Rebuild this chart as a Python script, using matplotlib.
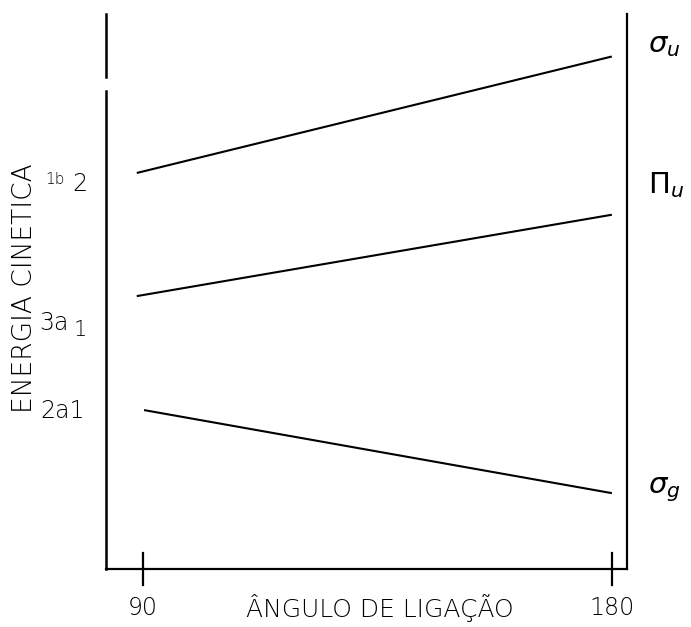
import matplotlib
matplotlib.use("Agg")
import matplotlib.pyplot as plt

# Diagrama de Walsh: energia dos orbitais em função do ângulo de ligação
angulos = [90, 180]
inicio = [89.0, 89.0, 90.4]          # ângulo onde cada linha começa
fim = [179.8, 179.8, 179.8]
energia_inicio = [7.14, 4.92, 2.86]
energia_fim = [9.23, 6.38, 1.37]
estados_180 = [r"$\sigma_u$", r"$\Pi_u$", r"$\sigma_g$"]

W, H = 691, 627
fig = plt.figure(figsize=(W / 100, H / 100), dpi=100)
fig.patch.set_facecolor("white")

# eixo: espinha esquerda em x=106 px, direita em 627 px, base 569 px, topo 14 px
ax = fig.add_axes([106 / W, 1 - 569 / H, (627 - 106) / W, (569 - 14) / H])
ax.set_xlim(82.9, 182.9)
ax.set_ylim(0, 10)
for lado in ["top", "left"]:
    ax.spines[lado].set_visible(False)
for lado in ["bottom", "right"]:
    ax.spines[lado].set_linewidth(1.6)
ax.set_xticks([])
ax.set_yticks([])

# espinha esquerda com interrupção perto do topo
ax.plot([0, 0], [0, 0.862], transform=ax.transAxes, color="black",
        lw=1.8, clip_on=False)
ax.plot([0, 0], [0.886, 1.0], transform=ax.transAxes, color="black",
        lw=1.8, clip_on=False)

# marcas longas em 90 e 180 atravessando a base
for a in angulos:
    ax.plot([a, a], [0.29, -0.29], color="black", lw=1.6, clip_on=False)

for x0, x1, e0, e1 in zip(inicio, fim, energia_inicio, energia_fim):
    ax.plot([x0, x1], [e0, e1], color="black", lw=1.5)

fonte = ["DejaVu Sans"]
peso = 200

# rótulos dos orbitais à esquerda
fig.text(45 / W, 1 - 179 / H, "1b", fontsize=11, family=fonte,
         weight=peso, ha="left", va="center")
fig.text(72 / W, 1 - 184 / H, "2", fontsize=17, family=fonte,
         weight=peso, ha="left", va="center")
fig.text(39 / W, 1 - 323 / H, "3a", fontsize=17, family=fonte,
         weight=peso, ha="left", va="center")
fig.text(74 / W, 1 - 330 / H, "1", fontsize=15, family=fonte,
         weight=peso, ha="left", va="center")
fig.text(40 / W, 1 - 411 / H, "2a1", fontsize=17, family=fonte,
         weight=peso, ha="left", va="center")

# rótulos dos estados em 180 graus
for txt, py in zip(estados_180, [45, 185, 490]):
    fig.text(648 / W, 1 - py / H, txt, fontsize=21, ha="left", va="center")

fig.text(25 / W, 1 - 288 / H, "ENERGIA CINETICA", rotation=90, fontsize=19,
         family=fonte, weight=peso, ha="center", va="center")

for a in angulos:
    ax.text(a, -0.7, str(a), fontsize=17, family=fonte, weight=peso,
            ha="center", va="center")
ax.text(135.5, -0.7, "ÂNGULO DE LIGAÇÃO", fontsize=18, family=fonte,
        weight=peso, ha="center", va="center")

fig.savefig("out.png", dpi=100)
